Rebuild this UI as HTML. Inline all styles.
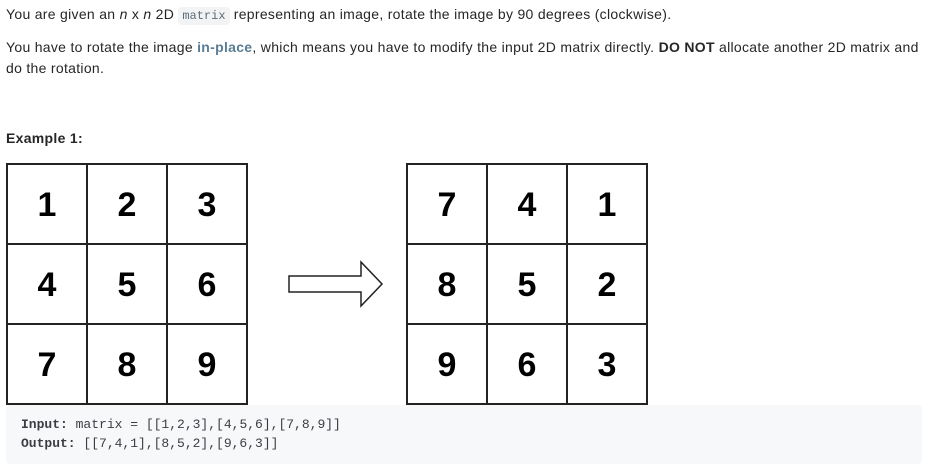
<!DOCTYPE html>
<html><head><meta charset="utf-8"><style>
body{margin:0;width:930px;height:476px;background:#fff;font-family:"Liberation Sans",sans-serif;color:#262626;font-size:14px;position:relative;overflow:hidden}
.p{position:absolute;left:6px;margin:0;line-height:21px;white-space:nowrap;letter-spacing:0.3px}
code{font-family:"Liberation Mono",monospace;font-size:12px;background:#f2f3f4;color:#5d6b75;padding:2px 4px;border-radius:4px;letter-spacing:0}
.hl{color:#5a7d94;font-weight:bold}
.pre{position:absolute;left:6px;top:405px;width:916px;height:59px;background:#f7f8fa;border-radius:4px;font-family:"Liberation Mono",monospace;font-size:13px;color:#3c3c43}
.pre div{position:absolute;left:15px;white-space:nowrap}
</style></head><body>
<p class="p" style="top:4px">You are given an <i>n</i> x <i>n</i> 2D <code>matrix</code> representing an image, rotate the image by 90 degrees (clockwise).</p>
<p class="p" style="top:37px">You have to rotate the image <span class="hl">in-place</span>, which means you have to modify the input 2D matrix directly. <b>DO NOT</b> allocate another 2D matrix and<br>do the rotation.</p>
<p class="p" style="top:128px;font-weight:bold">Example 1:</p>
<svg id="fig" width="930" height="476" style="position:absolute;left:0;top:0"></svg>
<div class="pre">
<div style="top:12px"><b>Input:</b> matrix = [[1,2,3],[4,5,6],[7,8,9]]</div>
<div style="top:31px"><b>Output:</b> [[7,4,1],[8,5,2],[9,6,3]]</div>
</div>
<script>
const inputMatrix=[[1,2,3],[4,5,6],[7,8,9]];
const outputMatrix=[[7,4,1],[8,5,2],[9,6,3]];
const svg=document.getElementById('fig');
const NS='http://www.w3.org/2000/svg';
function grid(m,x0,y0,name){
  const g=document.createElementNS(NS,'g');
  
  
  const c=80;
  m.forEach((row,r)=>row.forEach((v,k)=>{
    const rc=document.createElementNS(NS,'rect');
    rc.setAttribute('x',x0+k*c);rc.setAttribute('y',y0+r*c);
    rc.setAttribute('width',c);rc.setAttribute('height',c);
    rc.setAttribute('fill','#fff');rc.setAttribute('stroke','#222');rc.setAttribute('stroke-width','2');
    
    
    g.appendChild(rc);
    const t=document.createElementNS(NS,'text');
    t.setAttribute('x',x0+k*c+c/2);t.setAttribute('y',y0+r*c+c/2+12);
    t.setAttribute('text-anchor','middle');t.setAttribute('font-size','34');
    t.setAttribute('font-weight','bold');t.setAttribute('font-family','Liberation Sans, sans-serif');
    t.setAttribute('fill','#000');
    
    
    t.textContent=v;g.appendChild(t);
  }));
  svg.appendChild(g);
}
grid(inputMatrix,7,164,'input-matrix');
grid(outputMatrix,407,164,'output-matrix');
const a=document.createElementNS(NS,'polygon');
a.setAttribute('points','289,276 361,276 361,262 382,284 361,306 361,292 289,292');
a.setAttribute('fill','#fff');a.setAttribute('stroke','#222');a.setAttribute('stroke-width','1.5');


svg.appendChild(a);
</script>
</body></html>
